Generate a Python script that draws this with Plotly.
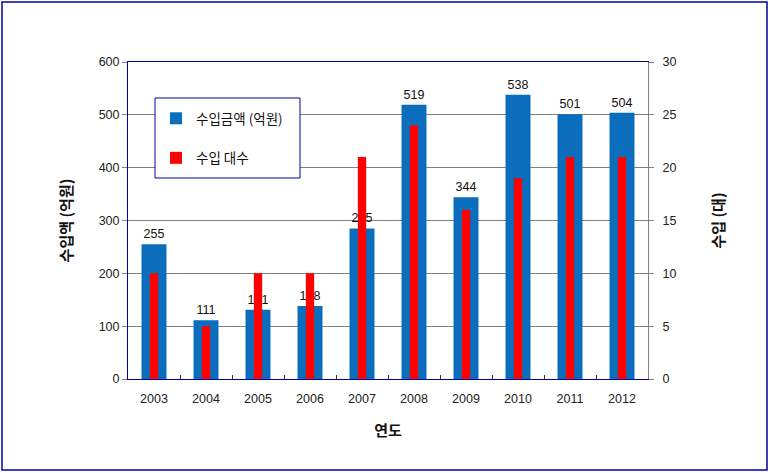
import plotly.graph_objects as go
from plotly.subplots import make_subplots

years = ["2003", "2004", "2005", "2006", "2007", "2008", "2009", "2010", "2011", "2012"]
amount = [255, 111, 131, 138, 285, 519, 344, 538, 501, 504]   # 수입금액 (억원)
units = [10, 5, 10, 10, 21, 24, 16, 19, 21, 21]               # 수입 대수
y1_ticks = [0, 100, 200, 300, 400, 500, 600]
y2_ticks = [0, 5, 10, 15, 20, 25, 30]

FONT = "Arial, 'Liberation Sans', 'Noto Sans CJK KR', sans-serif"
KFONT = "'Noto Sans CJK KR', 'Liberation Sans', sans-serif"
BLUE = "#0A6EBD"
RED = "#FF0000"
NAVY = "#0000A0"

W, H = 770, 473
L, R, T, B = 128, 122, 62, 94
PW, PH = W - L - R, H - T - B

def px(x):
    return (x - L) / PW

def py(y):
    return (H - B - y) / PH

fig = make_subplots(specs=[[{"secondary_y": True}]])

fig.add_trace(go.Bar(
    x=years, y=amount, name="수입금액 (억원)", marker_color=BLUE,
    marker_line_width=0, width=0.48, text=[str(v) for v in amount],
    textposition="outside",
    textfont=dict(size=12.5, color="#111111", family=FONT),
    outsidetextfont=dict(size=12.5, color="#111111", family=FONT),
    constraintext="none",
    cliponaxis=False, legendgroup="a"), secondary_y=False)

fig.add_trace(go.Bar(
    x=years, y=units, name="수입 대수", marker_color=RED,
    marker_line_width=0, width=0.16, legendgroup="b"), secondary_y=True)

fig.update_layout(
    width=W, height=H, barmode="overlay",
    margin=dict(l=L, r=R, t=T, b=B, autoexpand=False),
    paper_bgcolor="white", plot_bgcolor="white",
    font=dict(family=FONT, size=12, color="#222"),
    legend=dict(
        x=px(156), y=py(103), xanchor="left", yanchor="top",
        bgcolor="rgba(0,0,0,0)", borderwidth=0,
        font=dict(size=13.5, family=KFONT, color="#111"),
        tracegroupgap=19,
    ),
    shapes=[
        dict(type="rect", xref="paper", yref="paper",
             x0=px(155), x1=px(300), y0=py(178), y1=py(98),
             line=dict(color=NAVY, width=1), fillcolor="white", layer="above"),
        dict(type="rect", xref="paper", yref="paper",
             x0=px(2), x1=px(767), y0=py(470), y1=py(2),
             line=dict(color=NAVY, width=1.5), fillcolor="rgba(0,0,0,0)"),
    ],
)

fig.update_xaxes(
    automargin=False, domain=[0, 1],
    showline=True, linecolor=NAVY, linewidth=1, mirror=True,
    ticks="inside", tickson="boundaries", ticklen=4, tickcolor="#333",
    ticklabelstandoff=8,
    tickfont=dict(size=12.5, color="#222"),
    title=dict(text="<b>연도</b>", font=dict(size=15, family=KFONT, color="#111"), standoff=20),
)
fig.update_yaxes(
    automargin=False,
    range=[0, 600], tickvals=y1_ticks, showgrid=True, gridcolor="#808080", gridwidth=1,
    showline=True, linecolor=NAVY, linewidth=1, zeroline=False,
    ticks="outside", ticklen=5, tickcolor="#808080",
    tickfont=dict(size=12.5, color="#222"),
    title=dict(text="<b>수입액 (억원)</b>", font=dict(size=15, family=KFONT, color="#111"), standoff=22),
    secondary_y=False,
)
fig.update_yaxes(
    automargin=False,
    range=[0, 30], tickvals=y2_ticks, showgrid=False,
    showline=True, linecolor="#808080", linewidth=1, zeroline=False,
    ticks="outside", ticklen=5, tickcolor="#808080",
    ticklabelstandoff=6,
    tickfont=dict(size=12.5, color="#222"),
    title=dict(text="<b>수입 (대)</b>", font=dict(size=15, family=KFONT, color="#111"), standoff=38),
    secondary_y=True,
)

fig.write_html("out.html")
